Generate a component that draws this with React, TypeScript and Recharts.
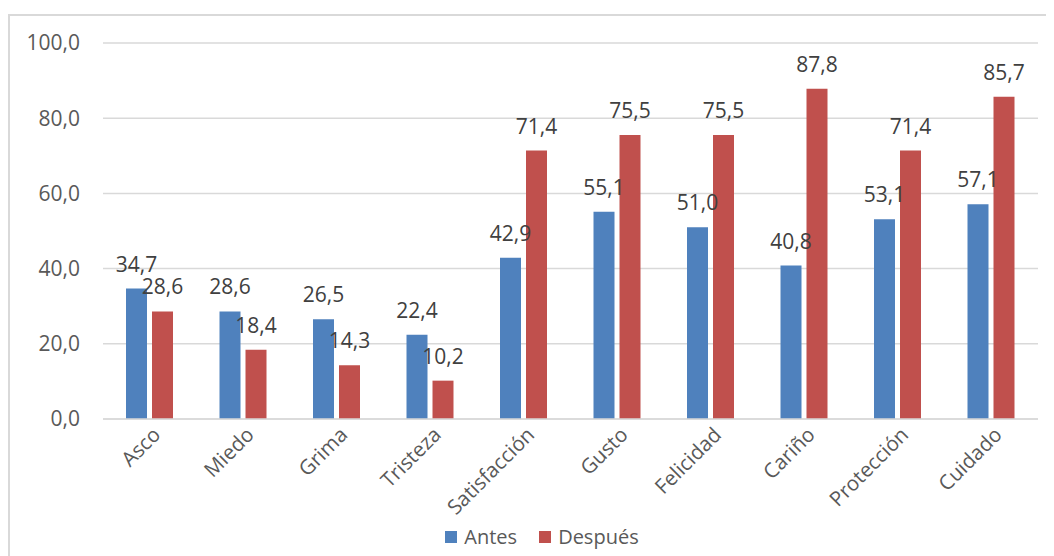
import React from "react";
import {
  BarChart,
  Bar,
  XAxis,
  YAxis,
  CartesianGrid,
  Legend,
  LabelList,
} from "recharts";

const categories = [
  "Asco",
  "Miedo",
  "Grima",
  "Tristeza",
  "Satisfacción",
  "Gusto",
  "Felicidad",
  "Cariño",
  "Protección",
  "Cuidado",
];
const antes = [34.7, 28.6, 26.5, 22.4, 42.9, 55.1, 51.0, 40.8, 53.1, 57.1];
const despues = [28.6, 18.4, 14.3, 10.2, 71.4, 75.5, 75.5, 87.8, 71.4, 85.7];
const yTicks = [0, 20, 40, 60, 80, 100];

const data = categories.map((name, i) => ({
  name,
  antes: antes[i],
  despues: despues[i],
}));

const FONT = "'Open Sans', 'Noto Sans', sans-serif";
const BLUE = "#4F81BD";
const RED = "#C0504D";

const fmt = (v: number) => v.toFixed(1).replace(".", ",");

// rotated category labels, anchored at their end like Excel does
function CategoryTick(props: any) {
  const { x, y, payload } = props;
  return (
    <text
      transform={`translate(${x + 12},${y + 9}) rotate(-45)`}
      textAnchor="end"
      fill="#595959"
      fontSize={20.5}
      fontFamily={FONT}
    >
      {payload.value}
    </text>
  );
}

function LegendContent() {
  const items = [
    { label: "Antes", color: BLUE },
    { label: "Después", color: RED },
  ];
  return (
    <div
      style={{
        display: "flex",
        justifyContent: "center",
        alignItems: "center",
        gap: 22,
        fontFamily: FONT,
        fontSize: 20,
        color: "#595959",
        paddingLeft: 38,
      }}
    >
      {items.map((it) => (
        <div key={it.label} style={{ display: "flex", alignItems: "center" }}>
          <span
            style={{
              width: 12,
              height: 12,
              background: it.color,
              display: "inline-block",
              marginRight: 7,
            }}
          />
          <span>{it.label}</span>
        </div>
      ))}
    </div>
  );
}

export default function App() {
  return (
    <div
      style={{
        position: "relative",
        width: 1046,
        height: 548,
        overflow: "hidden",
        background: "#fff",
      }}
    >
      <div
        style={{
          position: "absolute",
          left: 0,
          top: 6,
          width: 1100,
          height: 600,
          borderLeft: "2px solid #D9D9D9",
          borderTop: "2px solid #D9D9D9",
        }}
      />
      <div style={{ position: "absolute", left: 0, top: 0 }}>
        <BarChart
          width={1046}
          height={548}
          data={data}
          margin={{ top: 35, right: 16, left: 0, bottom: 6 }}
          barSize={21}
          barGap={5}
        >
          <CartesianGrid vertical={false} stroke="#D9D9D9" strokeWidth={1.5} />
          <XAxis
            dataKey="name"
            interval={0}
            height={104}
            tick={<CategoryTick />}
            tickLine={false}
            axisLine={{ stroke: "#D9D9D9", strokeWidth: 1.5 }}
          />
          <YAxis
            width={95}
            domain={[0, 100]}
            ticks={yTicks}
            tickFormatter={fmt}
            tickLine={false}
            axisLine={false}
            tickMargin={17}
            tick={{ fill: "#595959", fontSize: 21, fontFamily: FONT }}
          />
          <Legend verticalAlign="bottom" content={<LegendContent />} />
          <Bar dataKey="antes" name="Antes" fill={BLUE} isAnimationActive={false}>
            <LabelList
              dataKey="antes"
              position="top"
              offset={17}
              formatter={(v: any) => fmt(Number(v))}
              style={{ fill: "#404040", fontSize: 21, fontFamily: FONT }}
            />
          </Bar>
          <Bar dataKey="despues" name="Después" fill={RED} isAnimationActive={false}>
            <LabelList
              dataKey="despues"
              position="top"
              offset={17}
              formatter={(v: any) => fmt(Number(v))}
              style={{ fill: "#404040", fontSize: 21, fontFamily: FONT }}
            />
          </Bar>
        </BarChart>
      </div>
    </div>
  );
}
